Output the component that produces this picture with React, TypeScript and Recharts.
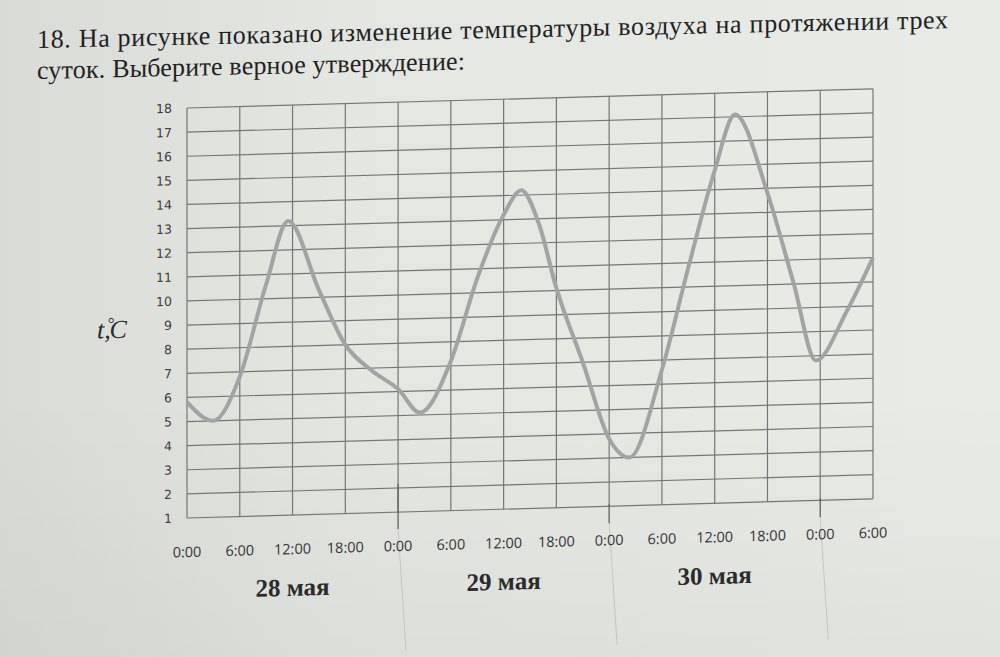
import React from 'react'
import { LineChart, Line, XAxis, YAxis, CartesianGrid } from 'recharts'

const hours = [0, 3, 6, 9, 11.5, 15, 18, 21, 24, 26.5, 30, 33, 36, 38, 40, 42, 45, 48, 50.3, 54, 57, 60, 62.3, 66, 69, 71.5, 75, 78]
const temps = [5.8, 5.0, 6.8, 10.6, 13.2, 10.3, 8.0, 6.9, 6.1, 5.1, 7.2, 10.6, 13.2, 14.2, 12.8, 10.1, 7.0, 3.8, 3.0, 6.6, 10.8, 14.8, 17.1, 13.8, 10.0, 6.8, 8.8, 11.0]

const tickHours = [0, 6, 12, 18, 24, 30, 36, 42, 48, 54, 60, 66, 72, 78]
const tickLabels = ['0:00', '6:00', '12:00', '18:00', '0:00', '6:00', '12:00', '18:00', '0:00', '6:00', '12:00', '18:00', '0:00', '6:00']
const dayBreaks = [24, 48, 72]
const dayTicks = [12, 36, 60]
const dayLabels = ['28 мая', '29 мая', '30 мая']
const tempTicks = [1, 2, 3, 4, 5, 6, 7, 8, 9, 10, 11, 12, 13, 14, 15, 16, 17, 18]

const data = hours.map((h, i) => ({ h, t: temps[i] }))

function TimeTick({ x, y, payload }: any) {
  const i = tickHours.indexOf(payload.value)
  const isBreak = dayBreaks.includes(payload.value)
  return (
    <g>
      {isBreak && <line x1={x} y1={y - (payload.value === 24 ? 28 : 2)} x2={x} y2={y + 17} stroke="#5f5f5f" strokeWidth={1.3} />}
      {isBreak && <line x1={x} y1={y + 17} x2={x + 10} y2={y + 170} stroke="#c4c7c1" strokeWidth={1} />}
      <text
        x={x}
        y={y + 34}
        dy="0.35em"
        textAnchor="middle"
        fill="#333"
        style={{ fontFamily: '"Open Sans", sans-serif', fontSize: 14.5 }}
      >
        {tickLabels[i]}
      </text>
    </g>
  )
}

function DayTick({ x, y, payload }: any) {
  const i = dayTicks.indexOf(payload.value)
  return (
    <text
      x={x}
      y={y + 22}
      dy="0.35em"
      textAnchor="middle"
      fill="#2b2b2b"
      style={{ fontFamily: '"Liberation Serif", serif', fontSize: 25, fontWeight: 700 }}
    >
      {dayLabels[i]}
    </text>
  )
}

export default function App() {
  return (
    <div
      style={{
        position: 'relative',
        width: 1000,
        height: 657,
        overflow: 'hidden',
        background:
          'linear-gradient(to bottom, rgba(0,0,0,0) 60%, rgba(0,0,0,0.035) 100%), linear-gradient(to right, #d9dcd6 0%, #e3e6e1 35%, #e8ebe6 100%)',
      }}
    >
      <style>{'body{margin:0}'}</style>

      <svg
        width={1000}
        height={120}
        style={{ position: 'absolute', left: 0, top: 0, transform: 'skewY(-1.25deg)', transformOrigin: '37px 0' }}
      >
        <g fill="#222" style={{ fontFamily: '"Liberation Serif", serif', fontSize: 26 }}>
          <text x={37} y={48} textLength={911} lengthAdjust="spacing">
            18. На рисунке показано изменение температуры воздуха на протяжении трех
          </text>
          <text x={37} y={79} textLength={428} lengthAdjust="spacing">
            суток. Выберите верное утверждение:
          </text>
        </g>
      </svg>

      <div
        style={{ position: 'absolute', left: 0, top: 0, transform: 'skewY(-1.6deg)', transformOrigin: '187px 0' }}
      >
        <LineChart width={1000} height={657} data={data} margin={{ top: 108, right: 127, bottom: 39, left: 157 }}>
          <CartesianGrid stroke="#767676" strokeWidth={1.2} />
          <XAxis
            dataKey="h"
            type="number"
            domain={[0, 78]}
            ticks={tickHours}
            interval={0}
            height={50}
            axisLine={false}
            tickLine={false}
            tickSize={0}
            tickMargin={0}
            tick={<TimeTick />}
          />
          <XAxis
            xAxisId="days"
            dataKey="h"
            type="number"
            domain={[0, 78]}
            ticks={dayTicks}
            interval={0}
            height={50}
            axisLine={false}
            tickLine={false}
            tickSize={0}
            tickMargin={0}
            tick={<DayTick />}
          />
          <YAxis
            type="number"
            domain={[1, 18]}
            ticks={tempTicks}
            interval={0}
            width={30}
            axisLine={false}
            tickLine={false}
            tickSize={0}
            tickMargin={15}
            tick={{ fill: '#3d3d3d', fontSize: 12.5, fontFamily: '"DejaVu Sans", sans-serif' }}
          />
          <Line
            dataKey="t"
            type="monotone"
            stroke="#a3a3a3"
            strokeWidth={4}
            dot={false}
            isAnimationActive={false}
          />
        </LineChart>
        <svg width={160} height={60} style={{ position: 'absolute', left: 0, top: 300 }}>
          <text x={97} y={36} fill="#2b2b2b" style={{ fontFamily: '"Liberation Serif", serif', fontSize: 26, fontStyle: 'italic' }}>
            <tspan>t,</tspan>
            <tspan dx={-3} dy={-9} fontSize={17} fontStyle="normal">°</tspan>
            <tspan dx={-5} dy={9}>C</tspan>
          </text>
        </svg>
      </div>
    </div>
  )
}
